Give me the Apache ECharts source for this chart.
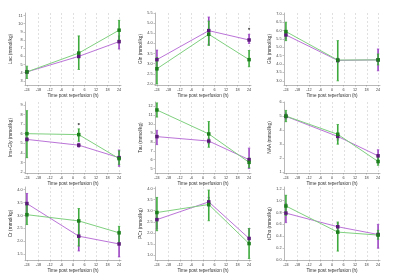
<!DOCTYPE html>
<html>
<head>
<meta charset="utf-8">
<script src="https://cdn.jsdelivr.net/npm/echarts@6/dist/echarts.min.js"></script>
<style>
  html, body { margin: 0; padding: 0; background: #fff; }
  #main { width: 400px; height: 278px; }
</style>
</head>
<body>
<div id="main"></div>
<script>
// time points (h post reperfusion)
var timePoints = [-24, 3, 24];
var timeTicks = [-24, -18, -12, -6, 0, 6, 12, 18, 24];

// panel names
var panelNames = ['Lac (mmol/kg)', 'Gln (mmol/kg)', 'Glu (mmol/kg)',
  'Ins+Gly (mmol/kg)', 'Tau (mmol/kg)', 'NAA (mmol/kg)',
  'Cr (mmol/kg)', 'PCr (mmol/kg)', 'tCho (mmol/kg)'];

// y ticks per panel
var lacTicks = [3, 4, 5, 6, 7, 8, 9, 10, 11];
var glnTicks = [2.0, 2.5, 3.0, 3.5, 4.0, 4.5, 5.0, 5.5];
var gluTicks = [3.0, 3.5, 4.0, 4.5, 5.0, 5.5, 6.0, 6.5, 7.0];
var insTicks = [2, 3, 4, 5, 6, 7, 8, 9];
var tauTicks = [5, 6, 7, 8, 9, 10, 11, 12];
var naaTicks = [1, 2, 3, 4, 5, 6];
var crTicks = [1.5, 2.0, 2.5, 3.0, 3.5, 4.0];
var pcrTicks = [1.0, 1.5, 2.0, 2.5, 3.0, 3.5, 4.0];
var choTicks = [0.0, 0.2, 0.4, 0.6, 0.8, 1.0, 1.2];

// means (green / purple) and error ranges [lo, hi]
var lacGreen = [4.1, 6.4, 9.2],   lacGreenErr = [[3.3, 4.8], [4.4, 8.5], [8.0, 10.4]];
var lacPurple = [4.1, 6.0, 7.8],  lacPurpleErr = [[3.9, 4.3], [5.8, 6.2], [6.9, 8.5]];
var glnGreen = [2.75, 4.45, 3.2], glnGreenErr = [[2.0, 3.3], [3.9, 5.1], [2.85, 3.65]];
var glnPurple = [3.2, 4.63, 4.17], glnPurpleErr = [[2.67, 3.67], [3.95, 5.3], [4.0, 4.45]];
var gluGreen = [5.94, 4.24, 4.25], gluGreenErr = [[5.4, 6.5], [3.0, 5.4], [3.95, 4.6]];
var gluPurple = [5.74, 4.22, 4.25], gluPurpleErr = [[5.5, 6.0], [4.1, 4.35], [3.6, 4.9]];
var insGreen = [6.0, 5.9, 3.4],   insGreenErr = [[3.5, 8.4], [5.2, 6.5], [2.8, 4.2]];
var insPurple = [5.4, 4.8, 3.5],  insPurpleErr = [[5.2, 5.6], [4.6, 5.0], [2.6, 4.3]];
var tauGreen = [11.6, 8.9, 5.7],  tauGreenErr = [[10.8, 12.4], [7.4, 10.3], [5.1, 6.2]];
var tauPurple = [8.6, 8.1, 6.0],  tauPurpleErr = [[7.7, 9.3], [7.8, 8.4], [5.0, 7.3]];
var naaGreen = [5.0, 3.7, 1.77],  naaGreenErr = [[4.6, 5.4], [3.0, 4.4], [1.5, 2.25]];
var naaPurple = [4.98, 3.55, 2.17], naaPurpleErr = [[4.8, 5.2], [3.3, 3.8], [1.65, 2.6]];
var crGreen = [3.03, 2.79, 2.33], crGreenErr = [[2.65, 3.4], [1.82, 3.27], [1.95, 2.58]];
var crPurple = [3.46, 2.2, 1.9],  crPurpleErr = [[2.95, 3.85], [1.63, 2.75], [1.4, 2.4]];
var pcrGreen = [2.92, 3.28, 1.52], pcrGreenErr = [[2.1, 3.6], [2.55, 3.93], [0.85, 2.2]];
var pcrPurple = [2.6, 3.4, 1.75], pcrPurpleErr = [[2.2, 2.9], [3.2, 3.6], [1.5, 2.2]];
var choGreen = [0.91, 0.47, 0.42], choGreenErr = [[0.75, 1.09], [0.15, 0.64], [0.35, 0.5]];
var choPurple = [0.79, 0.56, 0.43], choPurpleErr = [[0.63, 0.95], [0.5, 0.62], [0.2, 0.6]];

// significance marks [x, y] per panel (null = none)
var starMarks = [null, [24, 4.72], null, [3, 7.0], [-24, 12.7], null, null, null, null];

var panels = [
  { ticks: lacTicks, min: 2.5, max: 11.3, g: lacGreen, ge: lacGreenErr, p: lacPurple, pe: lacPurpleErr },
  { ticks: glnTicks, min: 1.95, max: 5.5, g: glnGreen, ge: glnGreenErr, p: glnPurple, pe: glnPurpleErr },
  { ticks: gluTicks, min: 2.75, max: 7.05, g: gluGreen, ge: gluGreenErr, p: gluPurple, pe: gluPurpleErr },
  { ticks: insTicks, min: 1.9, max: 9.3, g: insGreen, ge: insGreenErr, p: insPurple, pe: insPurpleErr },
  { ticks: tauTicks, min: 4.5, max: 12.5, g: tauGreen, ge: tauGreenErr, p: tauPurple, pe: tauPurpleErr },
  { ticks: naaTicks, min: 0.95, max: 6.0, g: naaGreen, ge: naaGreenErr, p: naaPurple, pe: naaPurpleErr },
  { ticks: crTicks, min: 1.28, max: 4.1, g: crGreen, ge: crGreenErr, p: crPurple, pe: crPurpleErr },
  { ticks: pcrTicks, min: 0.78, max: 4.07, g: pcrGreen, ge: pcrGreenErr, p: pcrPurple, pe: pcrPurpleErr },
  { ticks: choTicks, min: 0, max: 1.23, g: choGreen, ge: choGreenErr, p: choPurple, pe: choPurpleErr }
];

var colLeft = [25, 155, 284];
var rowTop = [13, 102, 187];
var rowHeight = [72, 71, 73];

var GREEN_LINE = '#7fd07f', GREEN_MARK = '#1c7f1c', GREEN_ERR = '#3daa3d';
var PURPLE_LINE = '#bb74d8', PURPLE_MARK = '#5a1a78', PURPLE_ERR = '#9c44c4';
var FONT = 'Liberation Sans';

function errSeries(i, errs, color) {
  var data = [];
  for (var k = 0; k < timePoints.length; k++) data.push([timePoints[k], errs[k][0], errs[k][1]]);
  return {
    type: 'custom', xAxisIndex: i, yAxisIndex: i, data: data, silent: true, z: 3,
    renderItem: function (params, api) {
      var lo = api.coord([api.value(0), api.value(1)]);
      var hi = api.coord([api.value(0), api.value(2)]);
      var w = 1.2;
      return {
        type: 'group',
        children: [
          { type: 'line', shape: { x1: lo[0], y1: lo[1], x2: hi[0], y2: hi[1] }, style: { stroke: color, lineWidth: 1.6 } },
          { type: 'line', shape: { x1: lo[0] - w, y1: lo[1], x2: lo[0] + w, y2: lo[1] }, style: { stroke: color, lineWidth: 0.8 } },
          { type: 'line', shape: { x1: hi[0] - w, y1: hi[1], x2: hi[0] + w, y2: hi[1] }, style: { stroke: color, lineWidth: 0.8 } }
        ]
      };
    }
  };
}

// vertical dashed grid lines at the time ticks, drawn through the x axis scale
function gridSeries(i) {
  return {
    type: 'custom', xAxisIndex: i, yAxisIndex: i, silent: true, z: 1,
    data: timeTicks.slice(1).map(function (t) { return [t]; }),
    renderItem: function (params, api) {
      var x = api.coord([api.value(0), 0])[0];
      var cs = params.coordSys;
      x = Math.round(x) + 0.5;
      return {
        type: 'line',
        shape: { x1: x, y1: cs.y, x2: x, y2: cs.y + cs.height },
        style: { stroke: '#e0e0e0', lineWidth: 1, lineDash: [2, 2] }
      };
    }
  };
}

function lineSeries(i, vals, lineColor, markColor) {
  var data = [];
  for (var k = 0; k < timePoints.length; k++) data.push([timePoints[k], vals[k]]);
  return {
    type: 'line', xAxisIndex: i, yAxisIndex: i, data: data, z: 4,
    symbol: 'rect', symbolSize: 3.5, showSymbol: true,
    lineStyle: { color: lineColor, width: 1 },
    itemStyle: { color: markColor },
    animation: false
  };
}

var grids = [], xAxes = [], yAxes = [], series = [];
panels.forEach(function (pn, i) {
  var r = Math.floor(i / 3), c = i % 3;
  grids.push({ left: colLeft[c], top: rowTop[r], width: 96, height: rowHeight[r] });
  xAxes.push({
    type: 'value', gridIndex: i, min: -25, max: 25,
    name: 'Time post reperfusion (h)', nameLocation: 'middle', nameGap: 8,
    nameTextStyle: { fontSize: 4.6, color: '#333', fontFamily: FONT },
    axisLine: { onZero: false, lineStyle: { color: '#888', width: 0.6 } },
    axisTick: { customValues: timeTicks, length: 1.5, lineStyle: { color: '#888', width: 0.5 } },
    axisLabel: { customValues: timeTicks, fontSize: 3.8, margin: 2.5, color: '#444', fontFamily: FONT },
    splitLine: { show: false }
  });
  yAxes.push({
    type: 'value', gridIndex: i, min: pn.min, max: pn.max,
    name: panelNames[i], nameLocation: 'middle', nameGap: 12, nameRotate: 90,
    nameTextStyle: { fontSize: 4.8, color: '#333', fontFamily: FONT },
    axisLine: { show: true, onZero: false, lineStyle: { color: '#888', width: 0.6 } },
    axisTick: { show: true, customValues: pn.ticks, length: 1.5, lineStyle: { color: '#888', width: 0.5 } },
    axisLabel: { customValues: pn.ticks, fontSize: 3.8, margin: 2.5, color: '#444', fontFamily: FONT,
      formatter: function (v) { return pn.ticks[1] - pn.ticks[0] < 1 ? v.toFixed(1) : String(v); } },
    splitLine: { show: false }
  });
  series.push(gridSeries(i));
  series.push(lineSeries(i, pn.p, PURPLE_LINE, PURPLE_MARK));
  series.push(lineSeries(i, pn.g, GREEN_LINE, GREEN_MARK));
  series.push(errSeries(i, pn.pe, PURPLE_ERR));
  series.push(errSeries(i, pn.ge, GREEN_ERR));
  if (starMarks[i]) {
    series.push({
      type: 'scatter', xAxisIndex: i, yAxisIndex: i, data: [starMarks[i]],
      symbol: 'circle', symbolSize: 2.2, itemStyle: { color: '#333' }, z: 5
    });
  }
});

var chart = echarts.init(document.getElementById('main'), null, { renderer: 'canvas' });
chart.setOption({
  animation: false,
  backgroundColor: '#fff',
  grid: grids,
  xAxis: xAxes,
  yAxis: yAxes,
  series: series
});
</script>
</body>
</html>
